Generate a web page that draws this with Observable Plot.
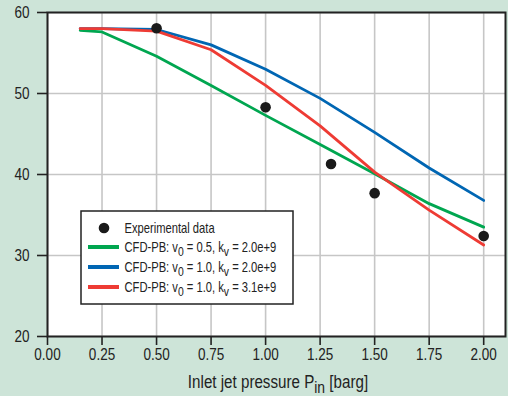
<!DOCTYPE html>
<html><head><meta charset="utf-8">
<script src="https://cdn.jsdelivr.net/npm/d3@7"></script>
<script src="https://cdn.jsdelivr.net/npm/@observablehq/plot@0.6"></script>
<style>
html,body{margin:0;padding:0;background:#cde4d8;}
</style>
</head><body>
<div id="chart"></div>
<script>
const pressure = [0.15, 0.25, 0.5, 0.75, 1.0, 1.25, 1.5, 1.75, 2.0];
const greenVals = [57.8, 57.6, 54.6, 51.0, 47.3, 43.7, 40.1, 36.4, 33.5];
const blueVals  = [58.0, 58.0, 57.9, 56.0, 53.0, 49.4, 45.2, 40.8, 36.8];
const redVals   = [58.0, 58.0, 57.7, 55.4, 51.0, 46.0, 40.3, 35.6, 31.3];
const expX = [0.5, 1.0, 1.3, 1.5, 2.0];
const expY = [58.05, 48.3, 41.3, 37.7, 32.4];
const xTicks = [0, 0.25, 0.5, 0.75, 1.0, 1.25, 1.5, 1.75, 2.0];
const yTicks = [20, 30, 40, 50, 60];
const seriesNames = ["v0 = 0.5, kv = 2.0e+9", "v0 = 1.0, kv = 2.0e+9", "v0 = 1.0, kv = 3.1e+9"];
const seriesLabels = [["0.5","2.0e+9"],["1.0","2.0e+9"],["1.0","3.1e+9"]];
const seriesColors = ["#00a650", "#0066b3", "#ee3b34"];

const lineData = [];
[greenVals, blueVals, redVals].forEach((vals, i) => {
  vals.forEach((v, j) => lineData.push({x: pressure[j], y: v, s: seriesNames[i]}));
});
const expData = expX.map((x, i) => ({x, y: expY[i]}));

const FONT = "'Liberation Sans',Arial,Helvetica,sans-serif";

const plot = Plot.plot({
  width: 508, height: 396,
  marginLeft: 47, marginRight: 3, marginTop: 12, marginBottom: 60,
  style: {background: "#cde4d8", fontFamily: FONT, color: "#222"},
  x: {domain: [0, 2.1]},
  y: {domain: [20, 60]},
  color: {domain: seriesNames, range: seriesColors},
  marks: [
    Plot.frame({fill: "white", stroke: null}),
    Plot.gridX(xTicks, {stroke: "#c6c6c6", strokeOpacity: 1, strokeWidth: 1.6}),
    Plot.gridY(yTicks, {stroke: "#c6c6c6", strokeOpacity: 1, strokeWidth: 1.6}),
    Plot.line(lineData, {x: "x", y: "y", z: "s", stroke: "s", strokeWidth: 2.8}),
    Plot.dot(expData, {x: "x", y: "y", r: 5.3, fill: "#1a1a1a", stroke: null}),
    Plot.frame({stroke: "#222", strokeWidth: 2}),
    Plot.axisX(xTicks, {tickSize: 9, tickPadding: 3, fontSize: 16.5, tickFormat: d3.format(".2f"), label: null, strokeWidth: 1.6}),
    Plot.axisY(yTicks, {tickSize: 10, tickPadding: 8, fontSize: 16.5, label: null, strokeWidth: 1.6})
  ]
});
document.getElementById("chart").appendChild(plot);

const svg = d3.select(plot);
// x-axis label with subscript
const lab = svg.append("text")
  .attr("x", 278).attr("y", 388)
  .attr("text-anchor", "middle")
  .attr("font-family", FONT).attr("font-size", 18.5).attr("fill", "#222");
lab.append("tspan").text("Inlet jet pressure P");
lab.append("tspan").attr("dy", 5).attr("font-size", 17).text("in");
lab.append("tspan").attr("dy", -5).text(" [barg]");

// legend
const lg = svg.append("g").attr("class", "legend").attr("font-family", FONT).attr("font-size", 14).attr("fill", "#222").attr("text-anchor", "start");
lg.append("rect").attr("x", 81).attr("y", 211).attr("width", 212).attr("height", 93)
  .attr("fill", "white").attr("stroke", "#222").attr("stroke-width", 1.5);
lg.append("circle").attr("cx", 104).attr("cy", 228).attr("r", 5.3).attr("fill", "#1a1a1a");
lg.append("text").attr("x", 124.5).attr("y", 233).text("Experimental data");
seriesLabels.forEach((lbl, i) => {
  const cy = 247 + i * 20;
  lg.append("line").attr("x1", 88).attr("x2", 119).attr("y1", cy).attr("y2", cy)
    .attr("stroke", seriesColors[i]).attr("stroke-width", 4);
  const t = lg.append("text").attr("x", 124.5).attr("y", cy + 5);
  t.append("tspan").text("CFD-PB: v");
  t.append("tspan").attr("dy", 4).attr("font-size", 13).text("0");
  t.append("tspan").attr("dy", -4).text(" = " + lbl[0] + ", k");
  t.append("tspan").attr("dy", 4).attr("font-size", 13).text("v");
  t.append("tspan").attr("dy", -4).text(" = " + lbl[1]);
});

// condense text horizontally to mimic a condensed Helvetica
svg.selectAll("text").each(function() {
  const el = d3.select(this);
  const inLegend = this.closest(".legend") !== null;
  const s = inLegend ? 0.8 : 0.82;
  const x = +(el.attr("x") || 0);
  const prev = el.attr("transform") || "";
  el.attr("transform", `${prev} translate(${x},0) scale(${s},1) translate(${-x},0)`.trim());
});
</script>
</body></html>
